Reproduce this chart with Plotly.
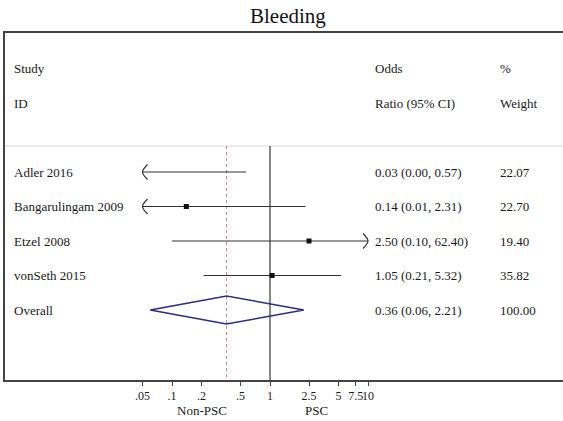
import math
import plotly.graph_objects as go

title = "Bleeding"
studies = ["Adler 2016", "Bangarulingam 2009", "Etzel 2008", "vonSeth 2015"]
odds = [0.03, 0.14, 2.50, 1.05]
ci_low = [0.00, 0.01, 0.10, 0.21]
ci_high = [0.57, 2.31, 62.40, 5.32]
weights = [22.07, 22.70, 19.40, 35.82]
overall_label = "Overall"
overall_or = 0.36
overall_low = 0.06
overall_high = 2.21
overall_weight = 100.00
tick_vals = [0.05, 0.1, 0.2, 0.5, 1, 2.5, 5, 7.5, 10]
tick_text = [".05", ".1", ".2", ".5", "1", "2.5", "5", "7.5", "10"]
axis_min, axis_max = 0.05, 10
left_label, right_label = "Non-PSC", "PSC"

FONT = "Liberation Serif, Times New Roman, serif"
W, H = 563, 421
ML, MR, MT, MB = 5, 0, 33, 41
PW = W - ML - MR
PH = H - MT - MB
PX1, PXDEC = 270.0, 98.0   # pixel of OR=1, pixels per decade
ROW0, ROWH = 68.5, 34.5    # pixel of first header row, row height

def px_to_log(p):
    return (p - PX1) / PXDEC

def px_to_row(p):
    return (p - ROW0) / ROWH

x_range = [px_to_log(ML), px_to_log(W - MR)]
y_range = [px_to_row(H - MB), px_to_row(MT)]

fig = go.Figure()
line_col = "#333333"
arrow_dx = 5 / PXDEC
arrow_dy = 7.5 / ROWH
line_top = px_to_row(146)

# reference lines
fig.add_trace(go.Scatter(x=[1, 1], y=[line_top, y_range[0]], mode="lines",
                         line=dict(color="#111111", width=1), hoverinfo="skip", showlegend=False))
fig.add_trace(go.Scatter(x=[overall_or, overall_or], y=[line_top, y_range[0]], mode="lines",
                         line=dict(color="#c48a8a", width=1, dash="3px,3px"),
                         hoverinfo="skip", showlegend=False))

study_rows = [3 + i for i in range(len(studies))]
for i, (o, lo, hi) in enumerate(zip(odds, ci_low, ci_high)):
    r = study_rows[i]
    x0 = max(lo, axis_min)
    x1 = min(hi, axis_max)
    fig.add_trace(go.Scatter(x=[x0, x1], y=[r, r], mode="lines",
                             line=dict(color=line_col, width=1.2), hoverinfo="skip", showlegend=False))
    if lo < axis_min:
        t = math.log10(axis_min)
        fig.add_trace(go.Scatter(x=[10 ** (t + arrow_dx), axis_min, 10 ** (t + arrow_dx)],
                                 y=[r - arrow_dy, r, r + arrow_dy], mode="lines",
                                 line=dict(color=line_col, width=1.2, shape="spline"),
                                 hoverinfo="skip", showlegend=False))
    if hi > axis_max:
        t = math.log10(axis_max)
        fig.add_trace(go.Scatter(x=[10 ** (t - arrow_dx), axis_max, 10 ** (t - arrow_dx)],
                                 y=[r - arrow_dy, r, r + arrow_dy], mode="lines",
                                 line=dict(color=line_col, width=1.2, shape="spline"),
                                 hoverinfo="skip", showlegend=False))
    if axis_min <= o <= axis_max:
        fig.add_trace(go.Scatter(x=[o], y=[r], mode="markers",
                                 marker=dict(symbol="square", size=5, color="#111111"),
                                 hoverinfo="skip", showlegend=False))

orow = 3 + len(studies)
dh = 14 / ROWH
fig.add_trace(go.Scatter(x=[overall_low, overall_or, overall_high, overall_or, overall_low],
                         y=[orow, orow - dh, orow, orow + dh, orow], mode="lines",
                         line=dict(color="#2b2d80", width=1.5), hoverinfo="skip", showlegend=False))

ann = []
def txt(text, px, row, size=13, xanchor="left"):
    ann.append(dict(text=text, x=(px - ML) / PW, xref="paper", y=row, yref="y",
                    xanchor=xanchor, yanchor="middle", showarrow=False,
                    font=dict(family=FONT, size=size, color="#1a1a1a")))

COL_L, COL_OR, COL_W = 12, 373, 498
txt("Study", COL_L, 0); txt("ID", COL_L, 1)
txt("Odds", COL_OR, 0); txt("Ratio (95% CI)", COL_OR, 1)
txt("%", COL_W, 0); txt("Weight", COL_W, 1)
for i, s in enumerate(studies):
    r = study_rows[i]
    txt(s, COL_L, r)
    txt(f"{odds[i]:.2f} ({ci_low[i]:.2f}, {ci_high[i]:.2f})", COL_OR, r)
    txt(f"{weights[i]:.2f}", COL_W, r)
txt(overall_label, COL_L, orow)
txt(f"{overall_or:.2f} ({overall_low:.2f}, {overall_high:.2f})", COL_OR, orow)
txt(f"{overall_weight:.2f}", COL_W, orow)

for lab, v in [(left_label, 0.2), (right_label, 3)]:
    ann.append(dict(text=lab, x=math.log10(v), xref="x", y=(H - MB - 410) / PH, yref="paper",
                    xanchor="center", yanchor="middle", showarrow=False,
                    font=dict(family=FONT, size=13, color="#1a1a1a")))

ann.append(dict(text=title, x=286 / W, xref="paper", y=1 + (MT - 16) / PH, yref="paper",
                xanchor="center", yanchor="middle", showarrow=False,
                font=dict(family=FONT, size=21, color="#111111")))

fig.update_layout(
    width=W, height=H, margin=dict(l=ML, r=MR, t=MT, b=MB, pad=0),
    paper_bgcolor="white", plot_bgcolor="white", showlegend=False,
    annotations=ann,
    shapes=[dict(type="line", xref="paper", yref="y", x0=0, x1=1, y0=line_top, y1=line_top,
                 line=dict(color="#e4e4e4", width=1.5), layer="below")],
    xaxis=dict(type="log", range=x_range, tickvals=tick_vals, ticktext=tick_text,
               tickangle=0,
               showline=True, linecolor="#444444", linewidth=1.5, mirror=True,
               ticks="outside", ticklen=4, tickcolor="#444444", tickwidth=1,
               showgrid=False, zeroline=False,
               tickfont=dict(family=FONT, size=12, color="#1a1a1a")),
    yaxis=dict(range=y_range, showline=True, linecolor="#444444", linewidth=1.5,
               showticklabels=False, ticks="", showgrid=False, zeroline=False),
)

fig.write_html("out.html", config={"displayModeBar": False},
               post_script="document.body.style.margin='0';document.body.style.padding='0';")
